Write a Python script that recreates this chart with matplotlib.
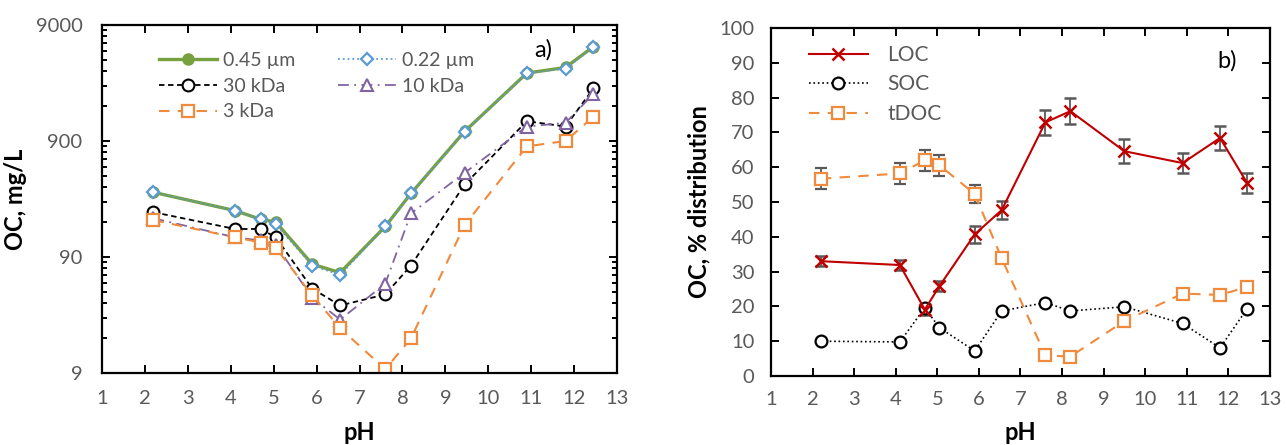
import numpy as np
import matplotlib.pyplot as plt
from matplotlib.ticker import FixedLocator, NullFormatter

plt.rcParams['font.family'] = ['Lato', 'DejaVu Sans']

# --- data, panel a) (OC, mg/L) ---
ph = [2.2, 4.1, 4.7, 5.05, 5.9, 6.55, 7.6, 8.2, 9.45, 10.9, 11.8, 12.45]
oc_045 = [325, 226, 190, 180, 78, 66, 165, 318, 1089, 3465, 3875, 5860]
oc_022 = [325, 226, 190, 172, 76, 63, 165, 318, 1075, 3465, 3780, 5780]
oc_30k = [219, 157, 157, 133, 48, 34.4, 42.8, 76, 380, 1334, 1200, 2557]
oc_10k = [194, 133, 125, 115, 40, 26, 53, 214, 479, 1200, 1290, 2290]
oc_3k = [187, 133, 120, 108, 42, 21.9, 9.7, 17.9, 170, 809, 900, 1455]

# --- data, panel b) (% distribution) ---
ph_b = [2.2, 4.1, 4.7, 5.05, 5.9, 6.55, 7.6, 8.2, 9.5, 10.9, 11.8, 12.45]
loc = [33.0, 31.9, 19.1, 25.8, 40.7, 47.7, 72.9, 76.1, 64.6, 61.2, 68.4, 55.5]
loc_err = [1.5, 1.5, 1.5, 1.5, 2.5, 2.5, 3.5, 3.8, 3.5, 3.0, 3.5, 2.8]
soc = [10.0, 9.8, 19.6, 13.9, 7.2, 18.7, 21.1, 18.7, 19.9, 15.1, 8.1, 19.3]
tdoc = [56.7, 58.2, 62.0, 60.6, 52.3, 33.8, 5.9, 5.6, 15.8, 23.7, 23.3, 25.6]
tdoc_err = [3.0, 3.0, 3.0, 3.0, 2.5, 1.0, 1.0, 1.0, 1.0, 1.0, 1.0, 1.0]

green = '#77A03F'
blue = '#5B9BD5'
purple = '#8064A2'
orange = '#F08A3C'
red = '#C00000'
grey = '#595959'

fig = plt.figure(figsize=(12.86, 4.45), dpi=100)
ax1 = fig.add_axes([0.0793, 0.1618, 0.4005, 0.782])
ax2 = fig.add_axes([0.5995, 0.155, 0.388, 0.782])

# panel a
h045, = ax1.plot(ph, oc_045, '-o', color=green, lw=2.4, ms=8, mfc=green, mec=green, label='0.45 µm')
h022, = ax1.plot(ph, oc_022, ':D', color=blue, lw=1.3, ms=6.5, mfc='white', mec=blue, mew=1.6, label='0.22 µm')
h30, = ax1.plot(ph, oc_30k, '--o', color='black', lw=1.3, ms=8.5, mfc='white', mec='black', mew=1.5,
                dashes=(3, 2), label='30 kDa')
h10, = ax1.plot(ph, oc_10k, '-.^', color=purple, lw=1.3, ms=8.5, mfc='white', mec=purple, mew=1.5,
                dashes=(6, 3, 1, 3), label='10 kDa')
h3, = ax1.plot(ph, oc_3k, '--s', color=orange, lw=1.5, ms=9, mfc='white', mec=orange, mew=1.6,
               dashes=(5, 4), label='3 kDa')

ax1.set_yscale('log')
ax1.set_ylim(9, 9000)
ax1.set_xlim(1, 13)
ax1.yaxis.set_major_locator(FixedLocator([9, 90, 900, 9000]))
ax1.yaxis.set_minor_locator(FixedLocator([9 * k * 10 ** n for n in range(3) for k in range(2, 10)]))
ax1.yaxis.set_minor_formatter(NullFormatter())
ax1.set_yticklabels(['9', '90', '900', '9000'])
ax1.set_xticks(range(1, 14))
ax1.legend(handles=[h045, h30, h3, h022, h10], ncol=2, frameon=False, loc='upper left',
           bbox_to_anchor=(0.095, 0.945), fontsize=14, handlelength=3.0, handletextpad=0.3,
           columnspacing=2.2, labelspacing=0.45, borderaxespad=0, labelcolor=grey)
ax1.text(0.84, 0.93, 'a)', transform=ax1.transAxes, fontsize=17, ha='left', va='center')
ax1.set_ylabel('OC, mg/L', fontsize=17, fontweight='bold', labelpad=6)
ax1.set_xlabel('pH', fontsize=17, fontweight='bold', labelpad=10)

# panel b
e1 = ax2.errorbar(ph_b, loc, yerr=loc_err, fmt='-x', color=red, lw=1.5, ms=8.5, mew=1.8,
                  ecolor=grey, elinewidth=1.3, capsize=4, capthick=1.3, label='LOC')
h_soc, = ax2.plot(ph_b, soc, ':o', color='black', lw=1.2, ms=8.5, mfc='white', mec='black', mew=1.6,
                  label='SOC')
e3 = ax2.errorbar(ph_b, tdoc, yerr=tdoc_err, fmt='--s', color=orange, lw=1.5, ms=9, mfc='white',
                  mec=orange, mew=1.6, dashes=(5, 4), ecolor=grey, elinewidth=1.3, capsize=4,
                  capthick=1.3, label='tDOC')
l_loc, = ax2.plot([], [], '-x', color=red, lw=1.5, ms=8.5, mew=1.8)
l_tdoc, = ax2.plot([], [], '--s', color=orange, lw=1.5, ms=9, mfc='white', mec=orange, mew=1.6,
                   dashes=(5, 4))
ax2.legend([l_loc, h_soc, l_tdoc], ['LOC', 'SOC', 'tDOC'], frameon=False, loc='upper left',
           bbox_to_anchor=(0.06, 0.975), fontsize=15, handlelength=2.8, handletextpad=0.95,
           labelspacing=0.45, borderaxespad=0, labelcolor=grey)
ax2.set_xlim(1, 13)
ax2.set_ylim(0, 100)
ax2.set_xticks(range(1, 14))
ax2.set_yticks(range(0, 101, 10))
ax2.text(0.895, 0.905, 'b)', transform=ax2.transAxes, fontsize=17, ha='left', va='center')
ax2.set_ylabel('OC, % distribution', fontsize=17, fontweight='bold', labelpad=6)
ax2.set_xlabel('pH', fontsize=17, fontweight='bold', labelpad=9)

for ax in (ax1, ax2):
    for s in ax.spines.values():
        s.set_linewidth(1.6)
        s.set_color('black')
    ax.tick_params(which='both', direction='in', top=True, right=True, width=1.4,
                   labelsize=14.5, labelcolor=grey, color='black')
    ax.tick_params(which='major', length=6)
    ax.tick_params(which='minor', length=3.5)
ax1.tick_params(axis='y', which='major', pad=14)
ax1.tick_params(axis='x', which='major', pad=12)
ax2.tick_params(axis='y', which='major', pad=12)
ax2.tick_params(axis='x', which='major', pad=11)

fig.savefig('out.png', dpi=100)
